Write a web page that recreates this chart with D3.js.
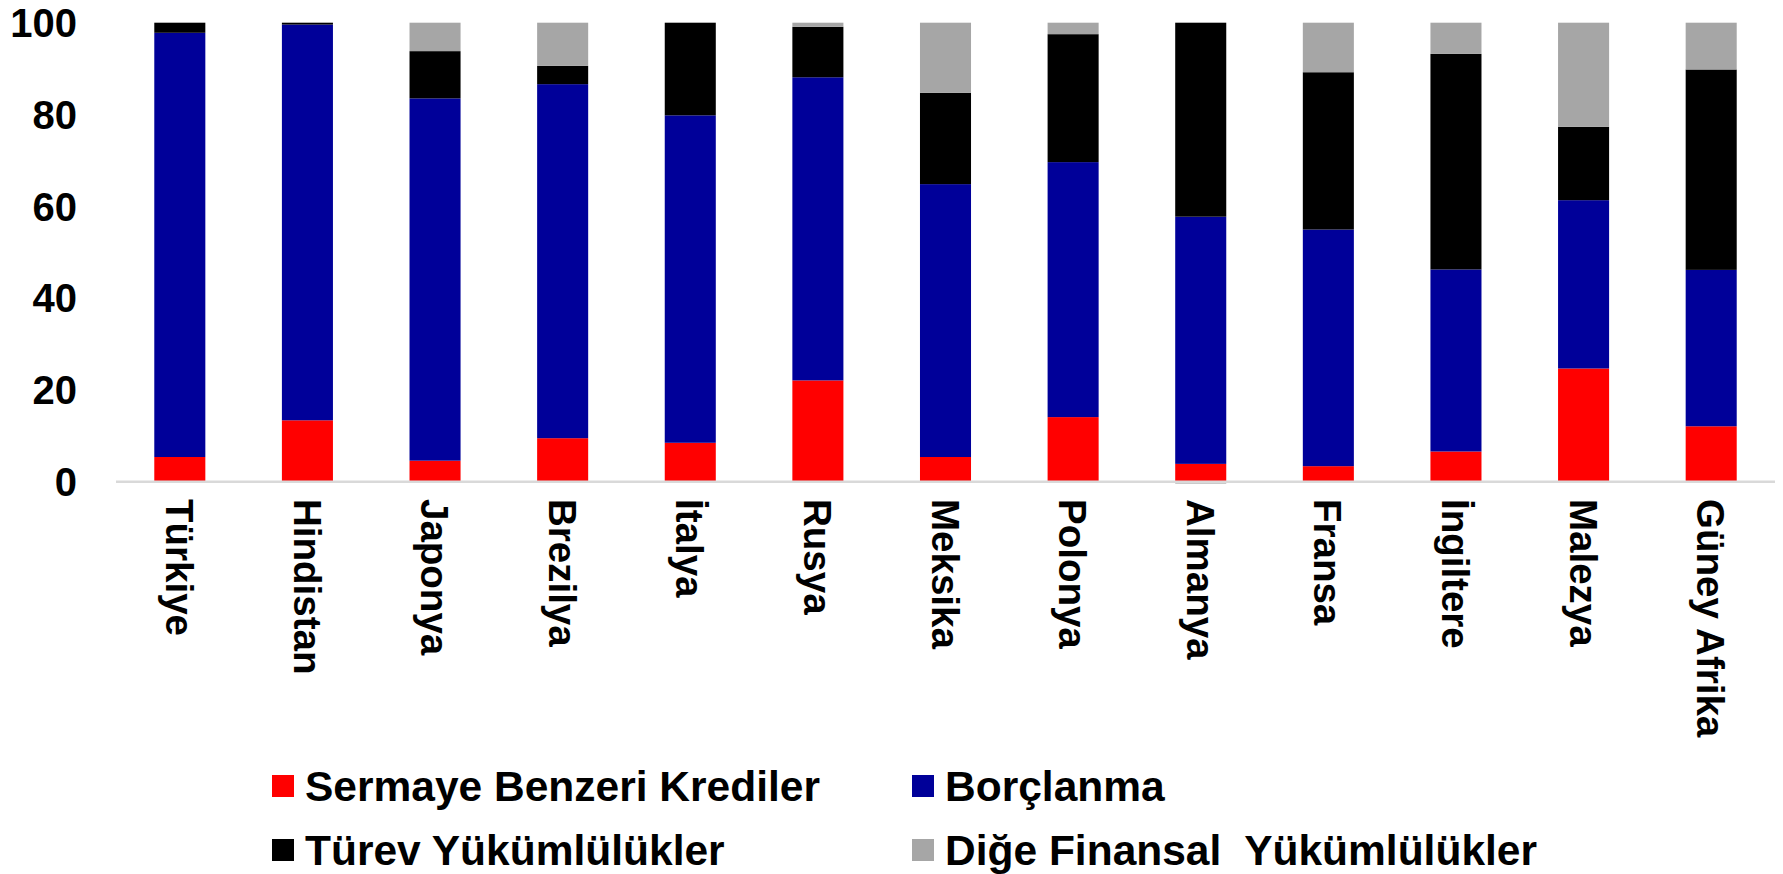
<!DOCTYPE html>
<html>
<head>
<meta charset="utf-8">
<script src="https://cdn.jsdelivr.net/npm/d3@7"></script>
<style>
  body { margin: 0; background: #fff; }
  text { font-family: "Liberation Sans", Arial, sans-serif; font-weight: bold; fill: #000; }
</style>
</head>
<body>
<script>
var countries = ["Türkiye", "Hindistan", "Japonya", "Brezilya", "İtalya", "Rusya", "Meksika",
  "Polonya", "Almanya", "Fransa", "İngiltere", "Malezya", "Güney Afrika"];

var sermaye = [5.3, 13.3, 4.5, 9.4, 8.4, 22.0, 5.3, 14.0, 3.8, 3.3, 6.5, 24.6, 12.0];
var borclanma = [92.5, 86.3, 79.0, 77.2, 71.4, 66.1, 59.5, 55.6, 53.9, 51.6, 39.7, 36.7, 34.1];
var turev = [2.2, 0.4, 10.3, 4.0, 20.2, 11.0, 19.9, 27.9, 42.3, 34.3, 47.0, 16.0, 43.7];
var diger = [0, 0, 6.2, 9.4, 0, 0.9, 15.3, 2.5, -0.5, 10.8, 6.8, 22.7, 10.2];

var seriesNames = ["Sermaye Benzeri Krediler", "Borçlanma", "Türev Yükümlülükler", "Diğe Finansal  Yükümlülükler"];
var seriesKeys = ["sermaye", "borclanma", "turev", "diger"];
var colors = ["#ff0000", "#000099", "#000000", "#a6a6a6"];
var yTicks = [0, 20, 40, 60, 80, 100];

var w = 1783, h = 874;

var dataset = countries.map(function (c, i) {
  return { country: c, sermaye: sermaye[i], borclanma: borclanma[i], turev: turev[i], diger: diger[i] };
});

var svg = d3.select("body")
  .append("svg")
  .attr("width", w)
  .attr("height", h);

var xScale = d3.scaleBand()
  .domain(countries)
  .range([116, 1775])
  .paddingInner(0.6)
  .paddingOuter(0.3);

var yScale = d3.scaleLinear()
  .domain([0, 100])
  .range([481.3, 22.7]);

var stack = d3.stack()
  .keys(seriesKeys)
  .offset(d3.stackOffsetDiverging);

var layers = stack(dataset);

svg.selectAll("g.layer")
  .data(layers)
  .enter()
  .append("g")
  .attr("class", "layer")
  .attr("fill", function (d, i) { return colors[i]; })
  .selectAll("rect")
  .data(function (d) { return d; })
  .enter()
  .append("rect")
  .attr("x", function (d) { return xScale(d.data.country); })
  .attr("width", xScale.bandwidth())
  .attr("y", function (d) { return yScale(Math.max(d[0], d[1])); })
  .attr("height", function (d) { return Math.abs(yScale(d[0]) - yScale(d[1])); });

// baseline
svg.append("line")
  .attr("x1", xScale.range()[0])
  .attr("x2", xScale.range()[1])
  .attr("y1", yScale(0) + 0.5)
  .attr("y2", yScale(0) + 0.5)
  .attr("stroke", "#d9d9d9")
  .attr("stroke-width", 2.5);

// y tick labels
svg.selectAll("text.ytick")
  .data(yTicks)
  .enter()
  .append("text")
  .attr("class", "ytick")
  .attr("x", 77)
  .attr("y", function (d) { return yScale(d); })
  .attr("dy", "0.36em")
  .style("text-anchor", "end")
  .style("font-size", "40px")
  .text(function (d) { return d; });

// category labels, rotated
svg.selectAll("text.xlab")
  .data(countries)
  .enter()
  .append("text")
  .attr("class", "xlab")
  .attr("transform", function (d) {
    return "translate(" + (xScale(d) + xScale.bandwidth() / 2) + ",499) rotate(90)";
  })
  .attr("dy", "0.36em")
  .style("text-anchor", "start")
  .style("font-size", "38.5px")
  .text(function (d) { return d; });

// legend
var legendPos = [[272, 775], [912, 775], [272, 839], [912, 839]];
var legend = svg.selectAll("g.legend")
  .data(seriesNames)
  .enter()
  .append("g")
  .attr("class", "legend")
  .attr("transform", function (d, i) { return "translate(" + legendPos[i][0] + "," + legendPos[i][1] + ")"; });

legend.append("rect")
  .attr("width", 22)
  .attr("height", 22)
  .attr("fill", function (d, i) { return colors[i]; });

legend.append("text")
  .attr("x", 33)
  .attr("y", 26)
  .style("font-size", "42.5px")
  .style("white-space", "pre")
  .text(function (d) { return d; });
</script>
</body>
</html>
